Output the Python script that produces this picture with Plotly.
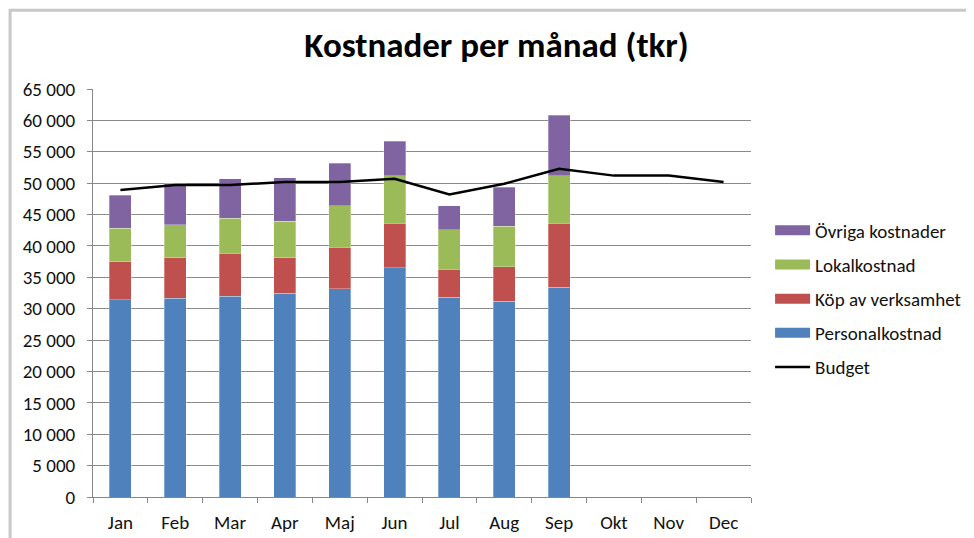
import plotly.graph_objects as go

months = ["Jan", "Feb", "Mar", "Apr", "Maj", "Jun", "Jul", "Aug", "Sep", "Okt", "Nov", "Dec"]
personal = [31400, 31700, 32000, 32500, 33200, 36500, 31850, 31150, 33450, None, None, None]
kop = [6100, 6400, 6850, 5600, 6600, 7100, 4450, 5550, 10150, None, None, None]
lokal = [5300, 5300, 5550, 5800, 6600, 7550, 6250, 6400, 7600, None, None, None]
ovriga = [5300, 6500, 6300, 7000, 6800, 5550, 3850, 6250, 9600, None, None, None]
budget = [48900, 49700, 49700, 50200, 50200, 50700, 48200, 49900, 52300, 51200, 51200, 50200]
y_ticks = list(range(0, 65001, 5000))
y_tick_labels = [f"{v:,}".replace(",", " ") for v in y_ticks]

series = [
    ("Personalkostnad", personal, "#4F81BD"),
    ("Köp av verksamhet", kop, "#C0504D"),
    ("Lokalkostnad", lokal, "#9BBB59"),
    ("Övriga kostnader", ovriga, "#8064A2"),
]

FONT = "Carlito, Lato, Liberation Sans Narrow, sans-serif"

fig = go.Figure()
for name, vals, col in series:
    fig.add_trace(go.Bar(x=months, y=vals, name=name, marker_color=col,
                         marker_line_width=0.5, marker_line_color="rgba(255,255,255,0.6)",
                         showlegend=False))

fig.add_trace(go.Scatter(x=months, y=budget, name="Budget", mode="lines",
                         line=dict(color="black", width=2.5), showlegend=False))

# legend entries (wide swatches like the original)
legend_order = [("Övriga kostnader", "#8064A2"), ("Lokalkostnad", "#9BBB59"),
                ("Köp av verksamhet", "#C0504D"), ("Personalkostnad", "#4F81BD")]
for i, (name, col) in enumerate(legend_order):
    fig.add_trace(go.Scatter(x=[None], y=[None], mode="lines", name=name,
                             line=dict(color=col, width=10), legendgroup=name,
                             legendrank=i + 1))
fig.add_trace(go.Scatter(x=[None], y=[None], mode="lines", name="Budget",
                         line=dict(color="black", width=2.5), legendgroup="Budget",
                         legendrank=10))

# page body has an 8px margin, so the figure is 8px smaller and margins shifted
fig.update_layout(
    barmode="stack",
    bargap=0.6,
    width=966, height=530,
    margin=dict(l=85, r=223, t=81, b=40.5, autoexpand=False),
    paper_bgcolor="white", plot_bgcolor="white",
    font=dict(family=FONT, size=19, color="#111111"),
    title=dict(text="<b>Kostnader per månad (tkr)</b>", x=0.5057, xanchor="center",
               y=0.93, yanchor="middle", font=dict(family=FONT, size=35, color="black")),
    legend=dict(x=1.029, xanchor="left", y=0.70, yanchor="top",
                font=dict(size=19, color="#111111"), tracegroupgap=6.5,
                itemwidth=35, traceorder="grouped", bgcolor="rgba(0,0,0,0)"),
    shapes=[dict(type="rect", xref="paper", yref="paper", x0=-0.126, x1=1.6,
                 y0=-0.3, y1=1.193, line=dict(color="#C8C8C8", width=3))],
)

fig.update_xaxes(type="category", showline=True, linecolor="#868686", linewidth=1,
                 ticks="outside", tickson="boundaries", ticklen=5, tickcolor="#868686",
                 ticklabelstandoff=8, showgrid=False, tickfont=dict(size=19),
                 automargin=False)
fig.update_yaxes(range=[0, 65000], tickvals=y_ticks, ticktext=y_tick_labels,
                 showline=True, linecolor="#868686", linewidth=1, ticks="outside",
                 ticklen=5, tickcolor="#868686", showgrid=True, gridcolor="#8A8A8A",
                 gridwidth=1, zeroline=False, ticklabelstandoff=8, tickfont=dict(size=19),
                 automargin=False)

fig.write_html("out.html")
